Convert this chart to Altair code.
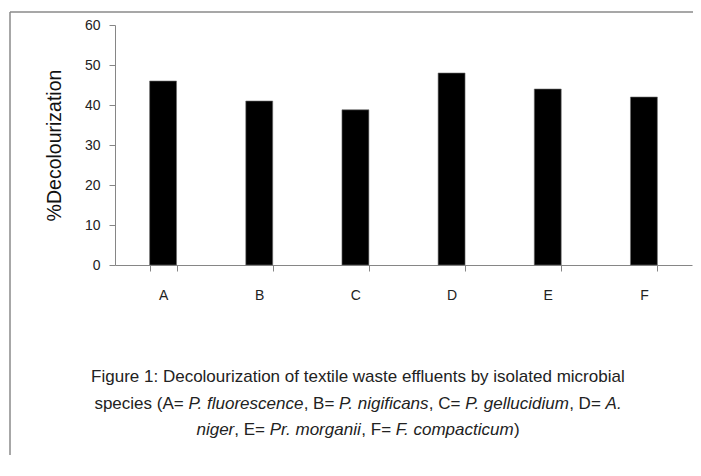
import altair as alt
import pandas as pd

categories = ["A", "B", "C", "D", "E", "F"]
values = [46, 41, 38.8, 48, 44, 42]
y_ticks = [0, 10, 20, 30, 40, 50, 60]
y_title = "%Decolourization"

caption_line1 = [("Figure 1: Decolourization of textile waste effluents by isolated microbial", False)]
caption_line2 = [("species (A= ", False), ("P. fluorescence", True), (", B= ", False),
                 ("P. nigificans", True), (", C= ", False), ("P. gellucidium", True),
                 (", D= ", False), ("A.", True)]
caption_line3 = [("niger", True), (", E= ", False), ("Pr. morganii", True), (", F= ", False),
                 ("F. compacticum", True), (")", False)]

FONT = "Liberation Sans"
CAP_SIZE = 17
CAP_CX = 243
CAP_Y = [352, 378.5, 405]

W = {' ': 278, '(': 333, ')': 333, ',': 278, '.': 278, ':': 278, '=': 584, '1': 556, '%': 889,
     'A': 667, 'B': 667, 'C': 722, 'D': 722, 'E': 667, 'F': 611, 'P': 667,
     'a': 556, 'b': 556, 'c': 500, 'd': 556, 'e': 556, 'f': 278, 'g': 556, 'h': 556, 'i': 222,
     'j': 222, 'k': 500, 'l': 222, 'm': 833, 'n': 556, 'o': 556, 'p': 556, 'q': 556, 'r': 333,
     's': 500, 't': 278, 'u': 556, 'v': 500, 'w': 722, 'x': 500, 'y': 500, 'z': 500}
KERN = {('P', '.'): -111, ('F', '.'): -111, ('P', ','): -111, ('F', ','): -111, ('1', '1'): -74}


def tw(s):
    w = sum(W.get(ch, 556) for ch in s)
    w += sum(KERN.get((a, b), 0) for a, b in zip(s, s[1:]))
    return w * CAP_SIZE / 1000.0


rows = []
for line, yy in zip([caption_line1, caption_line2, caption_line3], CAP_Y):
    total = sum(tw(t) for t, _ in line)
    x = CAP_CX - total / 2
    for t, it in line:
        rows.append({"text": t, "px": x, "py": yy, "italic": it})
        x += tw(t)
cap_df = pd.DataFrame(rows)

df = pd.DataFrame({"cat": categories, "val": values})

GRAY = "#868686"

bars = alt.Chart(df).mark_bar(color="black", stroke="#6f6f6f", strokeWidth=0.6).encode(
    x=alt.X("cat:N", sort=categories,
            scale=alt.Scale(paddingInner=0.72, paddingOuter=0.36),
            axis=alt.Axis(title=None, labelAngle=0, tickBand="extent", tickSize=6,
                          labelPadding=17, labelFontSize=14, labelFont=FONT,
                          labelColor="#222", domainColor=GRAY, tickColor=GRAY,
                          domainWidth=1, tickWidth=1)),
    y=alt.Y("val:Q", scale=alt.Scale(domain=[0, 60], nice=False),
            axis=alt.Axis(title=y_title, values=y_ticks, grid=False, tickSize=6,
                          labelPadding=9, labelFontSize=14, labelFont=FONT,
                          labelColor="#222", domainColor=GRAY, tickColor=GRAY,
                          titleFont=FONT, titleFontSize=19.5, titleFontWeight="normal",
                          titleColor="#111", titlePadding=20)),
)

one = pd.DataFrame({"a": [0]})
frame_top = alt.Chart(one).mark_rule(color="#8a8a8a", strokeWidth=1.5).encode(
    x=alt.value(-105), x2=alt.value(700), y=alt.value(-13))
frame_left = alt.Chart(one).mark_rule(color="#8a8a8a", strokeWidth=1.5).encode(
    x=alt.value(-105), y=alt.value(-13), y2=alt.value(520))

cap_normal = alt.Chart(cap_df).transform_filter("!datum.italic").mark_text(
    align="left", baseline="middle", font=FONT, fontSize=CAP_SIZE, color="#222"
).encode(x=alt.X("px:Q", scale=None, axis=None), y=alt.Y("py:Q", scale=None, axis=None), text="text:N")

cap_italic = alt.Chart(cap_df).transform_filter("datum.italic").mark_text(
    align="left", baseline="middle", font=FONT, fontSize=CAP_SIZE, fontStyle="italic", color="#222"
).encode(x=alt.X("px:Q", scale=None, axis=None), y=alt.Y("py:Q", scale=None, axis=None), text="text:N")

chart = alt.layer(frame_top, frame_left, bars, cap_normal, cap_italic).resolve_scale(
    x="independent", y="independent"
).properties(
    width=577, height=240,
    autosize=alt.AutoSizeParams(type="none"),
    padding={"left": 107, "top": 17, "right": 1, "bottom": 190},
    background="white",
).configure_view(stroke=None, strokeWidth=0)

chart.save("out.html", embed_options={"renderer": "svg", "actions": False})
